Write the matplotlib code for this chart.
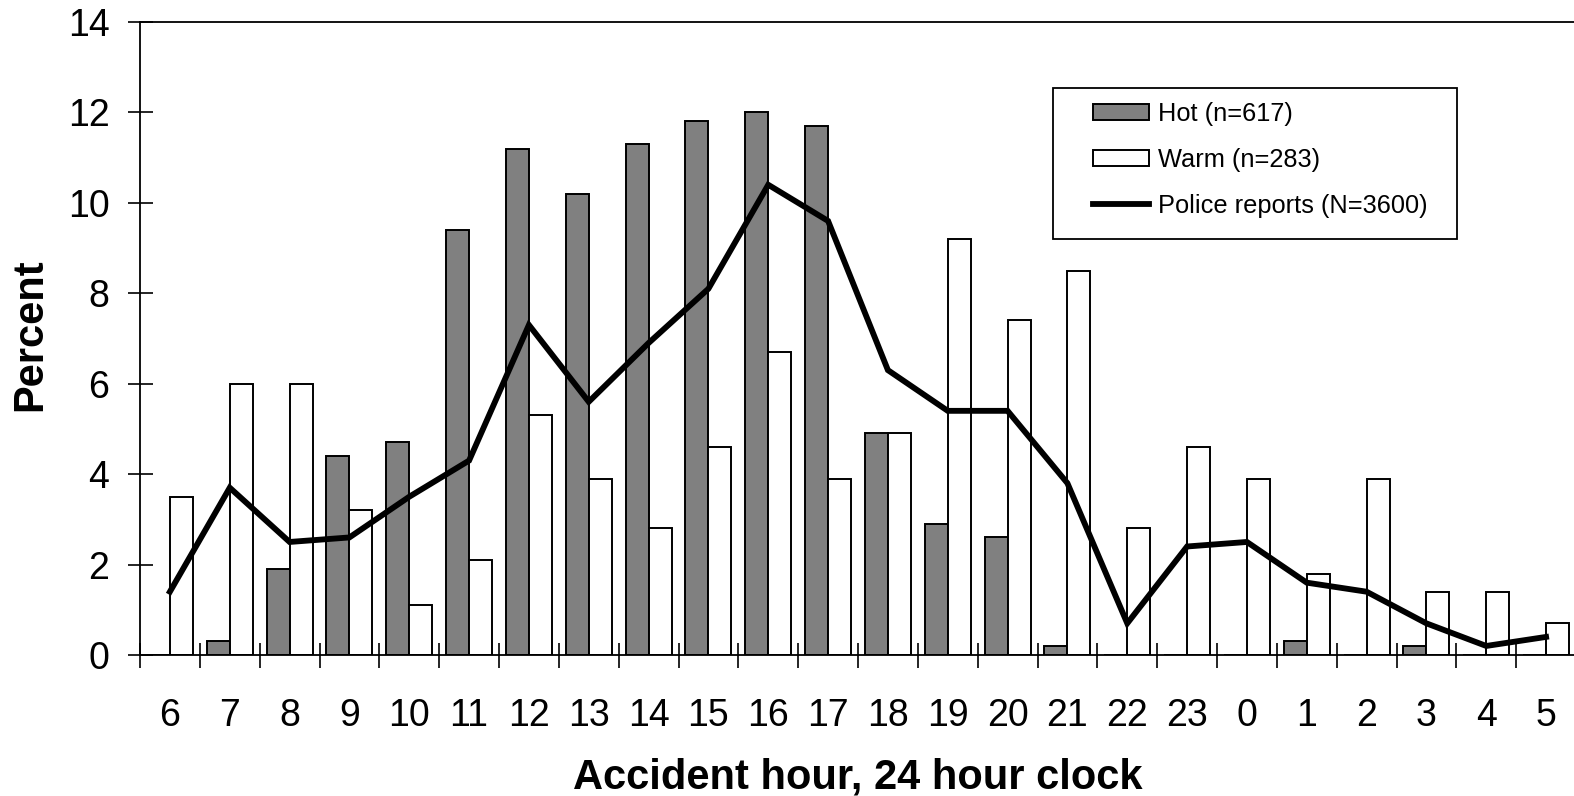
import matplotlib.pyplot as plt
import matplotlib.patches as mpatches
import numpy as np

# accident hour, 24 hour clock (starting at 6 am)
hours = ['6', '7', '8', '9', '10', '11', '12', '13', '14', '15', '16', '17',
         '18', '19', '20', '21', '22', '23', '0', '1', '2', '3', '4', '5']
hot = [0.0, 0.3, 1.9, 4.4, 4.7, 9.4, 11.2, 10.2, 11.3, 11.8, 12.0, 11.7,
       4.9, 2.9, 2.6, 0.2, 0.0, 0.0, 0.0, 0.3, 0.0, 0.2, 0.0, 0.0]
warm = [3.5, 6.0, 6.0, 3.2, 1.1, 2.1, 5.3, 3.9, 2.8, 4.6, 6.7, 3.9,
        4.9, 9.2, 7.4, 8.5, 2.8, 4.6, 3.9, 1.8, 3.9, 1.4, 1.4, 0.7]
police = [1.4, 3.7, 2.5, 2.6, 3.5, 4.3, 7.3, 5.6, 6.9, 8.1, 10.4, 9.6,
          6.3, 5.4, 5.4, 3.8, 0.7, 2.4, 2.5, 1.6, 1.4, 0.7, 0.2, 0.4]

plt.rcParams['font.family'] = ['Liberation Sans', 'DejaVu Sans']

W, H = 1574, 796
fig = plt.figure(figsize=(W / 100, H / 100), dpi=100)
ax = fig.add_axes([140 / W, 1 - 655 / H, (1576 - 140) / W, (655 - 22) / H])

x = np.arange(len(hours))
bw = 0.385
b1 = ax.bar(x - bw / 2, hot, width=bw, color='#808080', edgecolor='black',
            linewidth=1.4, label='Hot (n=617)', zorder=2)
b2 = ax.bar(x + bw / 2, warm, width=bw, color='white', edgecolor='black',
            linewidth=1.4, label='Warm (n=283)', zorder=2)
l1, = ax.plot(x, police, color='black', linewidth=4.2, solid_joinstyle='miter',
              label='Police reports (N=3600)', zorder=3)

ax.set_xlim(-0.5, 23.5)
ax.set_ylim(0, 14)
ax.set_yticks(np.arange(0, 15, 2))
ax.set_xticks(x)
ax.set_xticklabels(hours)
ax.set_xticks(np.arange(-0.5, 24, 1), minor=True)

ax.tick_params(axis='y', direction='inout', length=18, width=1.2,
               labelsize=27, pad=13)
ax.tick_params(axis='x', which='major', length=0, labelsize=27, pad=31)
ax.tick_params(axis='x', which='minor', direction='inout', length=18, width=1.2)

for s in ['left', 'bottom', 'top']:
    ax.spines[s].set_linewidth(1.3)
ax.spines['right'].set_visible(False)

ax.set_xlabel('Accident hour, 24 hour clock', fontsize=30, fontweight='bold',
              labelpad=17)
fig.text(30 / W, 1 - 335 / H, 'Percent', rotation=90, fontsize=30,
         fontweight='bold', ha='center', va='center')

# legend box drawn by hand, entries without frame
box = mpatches.Rectangle((1053 / W, 1 - 238.5 / H), 404 / W, 150.5 / H,
                         transform=fig.transFigure, facecolor='white',
                         edgecolor='black', linewidth=1.3, zorder=4,
                         clip_on=False)
ax.add_patch(box)
leg = ax.legend(handles=[b1, b2, l1], loc='upper left',
                bbox_to_anchor=(1093 / W, 1 - 102 / H),
                bbox_transform=fig.transFigure, frameon=False, fontsize=18.3,
                borderpad=0, borderaxespad=0, handlelength=2.2,
                handleheight=0.55, handletextpad=0.35, labelspacing=0.86)
leg.set_zorder(5)

fig.savefig('out.png', dpi=100)
